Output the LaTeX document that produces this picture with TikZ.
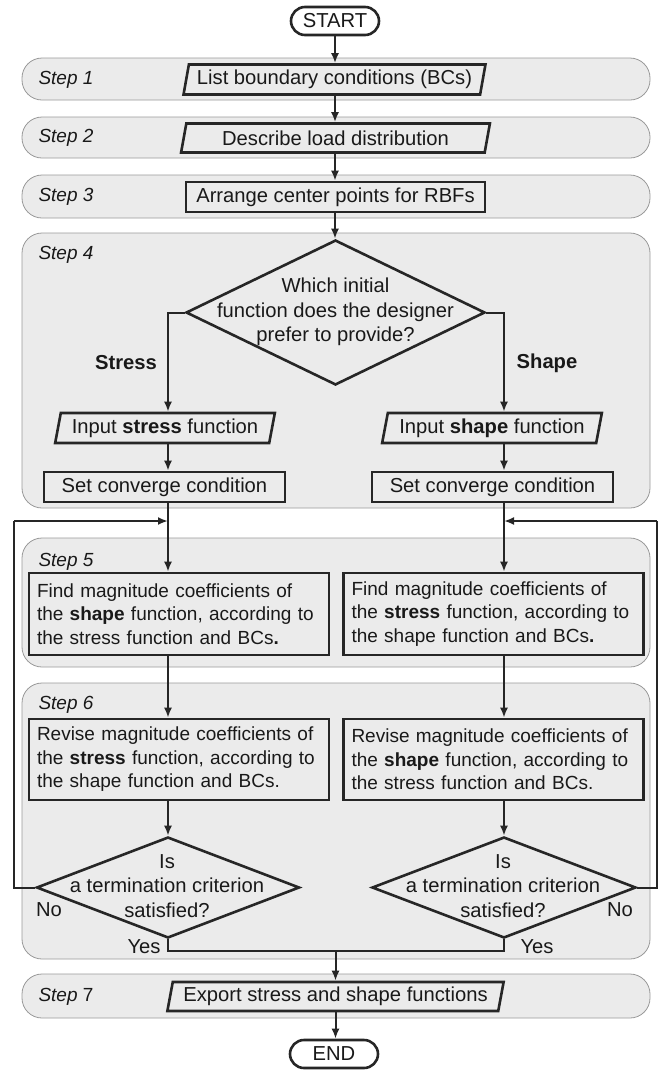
\documentclass[tikz,border=0pt]{standalone}
\usepackage{fontspec}
\setmainfont{Liberation Sans}
\usetikzlibrary{shapes.geometric,arrows.meta}
\begin{document}
\begin{tikzpicture}[x=1pt,y=-1pt,
  every node/.style={font=\fontsize{20.2}{24.5}\selectfont, text=black!90},
  band/.style={draw=black!40, fill=black!8, line width=0.8pt, rounded corners=20pt},
  ln/.style={draw=black!85, line width=2pt},
  arr/.style={ln, -{Latex[length=10pt,width=8pt]}},
  termbox/.style={draw=black!85, line width=2.6pt, fill=white, rounded corners=14pt,
     minimum width=88, minimum height=28, inner sep=0pt},
  para/.style={draw=black!85, line width=2.6pt, trapezium, trapezium left angle=75,
     trapezium right angle=105, trapezium stretches=true, inner sep=0pt, minimum height=30},
  rbox/.style={draw=black!85, line width=2.6pt, rectangle, inner sep=0pt, minimum height=30},
  tbox/.style={draw=black!85, line width=2.6pt, rectangle, inner xsep=8pt, inner ysep=0pt,
     text width=284, align=left, minimum height=82, font=\fontsize{19}{23.5}\selectfont},
  dia/.style={draw=black!85, line width=2.6pt, diamond, inner sep=0pt},
  steplbl/.style={anchor=west, font=\fontsize{19}{23}\selectfont\itshape},
  lbl/.style={inner sep=0pt}
]
\useasboundingbox (0,0) rectangle (671,1072);

% bands
\draw[band] (22,58) rectangle (650,100);
\draw[band] (22,117) rectangle (650,158);
\draw[band] (22,175) rectangle (650,218);
\draw[band] (22,233) rectangle (650,508);
\draw[band] (22,538) rectangle (650,667);
\draw[band] (22,683) rectangle (650,959);
\draw[band] (22,974) rectangle (650,1018);

\node[steplbl] (l1) at (35,80) {Step 1};
\node[steplbl] (l2) at (35,138) {Step 2};
\node[steplbl] (l3) at (35,197) {Step 3};
\node[steplbl] (l4) at (35,255) {Step 4};
\node[steplbl] (l5) at (35,562) {Step 5};
\node[steplbl] (l6) at (35,705) {Step 6};
\node[steplbl] (l7) at (35,997) {Step \upshape 7};

\coordinate (cL) at (168,0);
\coordinate (cR) at (504,0);

% nodes
\node[termbox] (start) at (335,21) {START};
\node[para, minimum width=303] (s1) at (334.5,79.5) {List boundary conditions (BCs)};
\node[para, minimum width=309, minimum height=29] (s2) at (335.5,138) {Describe load distribution};
\node[rbox, minimum width=299] (s3) at (335.5,197) {Arrange center points for RBFs};

\node[dia, minimum width=299, minimum height=145] (d1) at (335.5,312.5) {};
\node[align=center, inner sep=0pt] (d1t) at (335.5,312) {Which initial\\function does the designer\\prefer to provide?};

\node[para, minimum width=220] (in1) at (165,428) {Input \textbf{stress} function};
\node[para, minimum width=220] (in2) at (492,428) {Input \textbf{shape} function};
\node[rbox, minimum width=241] (sc1) at (164.5,487) {Set converge condition};
\node[rbox, minimum width=241] (sc2) at (492.5,487) {Set converge condition};

\node[tbox] (f1) at (179,614) {\mbox{Find magnitude coefficients of}\\\mbox{the \textbf{shape} function, according to}\\\mbox{the stress function and BCs\textbf{.}}};
\node[tbox] (f2) at (493.5,614) {\mbox{Find magnitude coefficients of}\\\mbox{the \textbf{stress} function, according to}\\\mbox{the shape function and BCs\textbf{.}}};
\node[tbox, minimum height=81] (r1) at (179,759.5) {\mbox{Revise magnitude coefficients of}\\\mbox{the \textbf{stress} function, according to}\\\mbox{the shape function and BCs.}};
\node[tbox, minimum height=81] (r2) at (493.5,759.5) {\mbox{Revise magnitude coefficients of}\\\mbox{the \textbf{shape} function, according to}\\\mbox{the stress function and BCs.}};

\node[dia, minimum width=263, minimum height=101] (t1) at (168,887.5) {};
\node[align=center, inner sep=0pt] (t1t) at (167,886) {Is\\a termination criterion\\satisfied?};
\node[dia, minimum width=264, minimum height=101] (t2) at (504,887.5) {};
\node[align=center, inner sep=0pt] (t2t) at (503,886) {Is\\a termination criterion\\satisfied?};

\node[para, minimum width=337, minimum height=29] (s7) at (335.5,996.5) {Export stress and shape functions};
\node[termbox] (end) at (334,1054) {END};

% labels
\node[lbl, font=\fontsize{20.2}{24.5}\selectfont\bfseries] (lstress) at (126,363) {Stress};
\node[lbl, font=\fontsize{20.2}{24.5}\selectfont\bfseries] (lshape) at (547,363) {Shape};
\node[lbl] (no1) at (49,910) {No};
\node[lbl] (no2) at (620,910) {No};
\node[lbl] (yes1) at (144,947) {Yes};
\node[lbl] (yes2) at (537,947) {Yes};

% connectors
\draw[arr] (start.south) -- (start.south |- s1.north);
\draw[arr] (s1.south -| start) -- (s2.north -| start);
\draw[arr] (s2.south -| start) -- (s3.north -| start);
\draw[arr] (s3.south -| start) -- (d1.north -| start);
\draw[arr] (d1.west) -| (in1.north -| cL);
\draw[arr] (d1.east) -| (in2.north -| cR);
\draw[arr] (in1.south -| cL) -- (sc1.north -| cL);
\draw[arr] (in2.south -| cR) -- (sc2.north -| cR);
\draw[arr] (sc1.south -| cL) -- (f1.north -| cL);
\draw[arr] (sc2.south -| cR) -- (f2.north -| cR);
\draw[arr] (f1.south -| cL) -- (r1.north -| cL);
\draw[arr] (f2.south -| cR) -- (r2.north -| cR);
\draw[arr] (r1.south -| cL) -- (t1.north);
\draw[arr] (r2.south -| cR) -- (t2.north);

\coordinate (jL) at (168,521);
\coordinate (jR) at (504,521);
\coordinate (oL) at (14,521);
\coordinate (oR) at (657,521);
\draw[ln] (t1.west) -| (oL);
\draw[arr] (oL) -- (jL);
\draw[ln] (t2.east) -| (oR);
\draw[arr] (oR) -- (jR);

\coordinate (yes) at (335.5,951);
\draw[ln] (t1.south) |- (yes);
\draw[ln] (t2.south) |- (yes);
\draw[arr] (yes) -- (s7.north -| yes);
\draw[arr] (s7.south -| yes) -- (end.north -| yes);
\end{tikzpicture}
\end{document}
